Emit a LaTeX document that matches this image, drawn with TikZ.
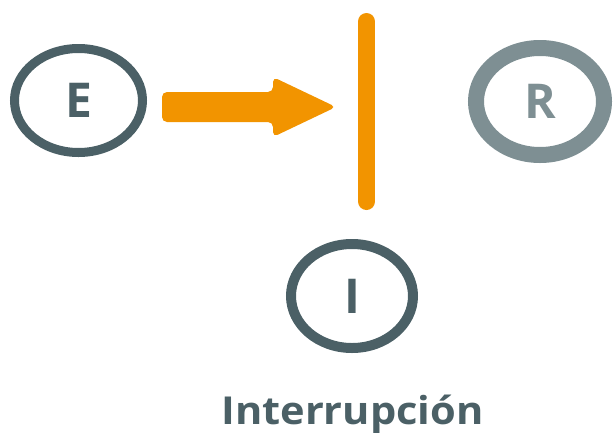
\documentclass[tikz,border=0pt]{standalone}
\usepackage{fontspec}
\setmainfont{Open Sans}
\usetikzlibrary{shapes.geometric,calc}
\definecolor{slate}{HTML}{4B6066}
\definecolor{greyr}{HTML}{7E8F93}
\definecolor{orng}{HTML}{F29400}
\tikzset{
  state/.style={draw=slate, ellipse, inner sep=0pt, text=slate,
    font=\fontsize{48}{48}\selectfont\bfseries},
  bar/.style={draw=orng, line width=17pt, line cap=round},
  bigarrow/.style={fill=orng, rounded corners=5pt},
}
\begin{document}
\begin{tikzpicture}[x=1pt,y=-1pt]
\useasboundingbox (0,0) rectangle (613,432);
\node[state, line width=9pt, minimum width=128pt, minimum height=104pt] (E) at (78.5,100.5) {E};
\node[state, draw=greyr, text=greyr, line width=16pt, minimum width=128pt, minimum height=107pt] (R) at (540,101.5) {R};
\node[state, line width=10pt, minimum width=122pt, minimum height=104pt] (I) at (352,296) {I};
\node[anchor=base, text=slate, inner sep=0pt, font=\fontsize{38.5}{38.5}\selectfont\bfseries] (lab) at (352.5,424.5) {\scalebox{1.08}[1]{Interrupción}};
\coordinate (barT) at (366.5,21.5);
\coordinate (barB) at (366.5,201.5);
\draw[bar] (barT) -- (barB);
\coordinate (a0) at (162,107);
\coordinate (tip) at (336,107);
\fill[bigarrow] (a0) ++(0,-15) -- ++(111,0) -- ++(0,-15) -- (tip) -- ($(a0)+(111,30)$) -- ++(0,-15) -- ++(-111,0) -- cycle;
\end{tikzpicture}
\end{document}
